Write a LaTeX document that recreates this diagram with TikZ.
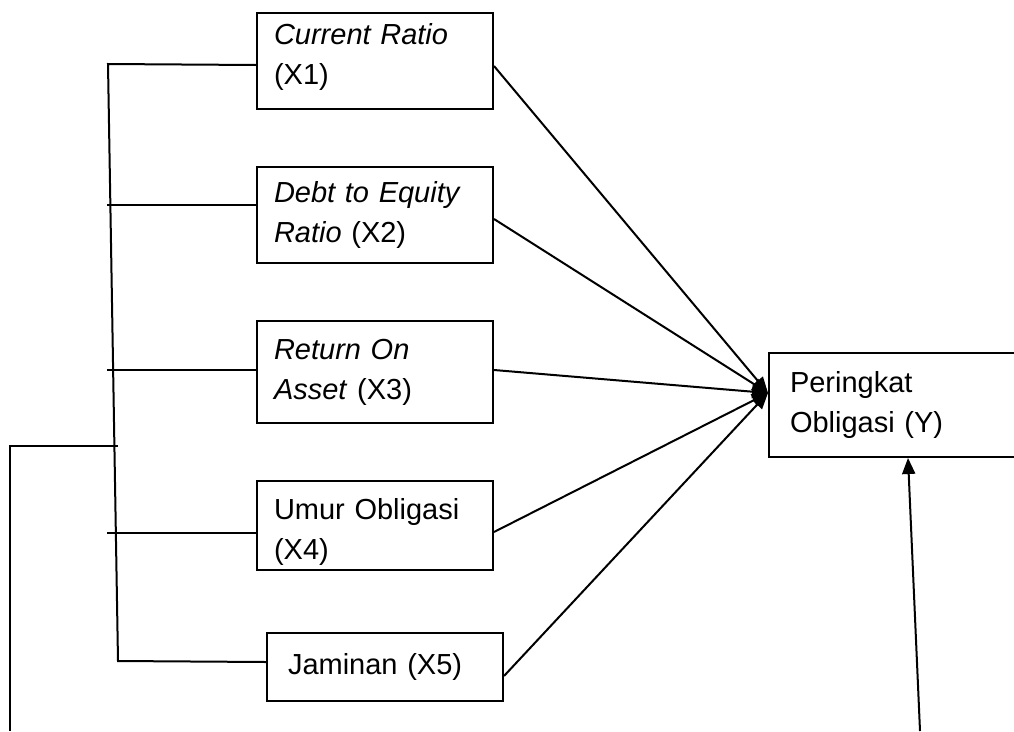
\documentclass[tikz,border=0pt]{standalone}
\usepackage{fontspec}
\setmainfont{Liberation Sans}
\usetikzlibrary{arrows.meta}

\begin{document}
\begin{tikzpicture}[x=1pt,y=-1pt,line width=2pt,
font=\fontsize{29}{40}\selectfont,
kasten/.style={draw, anchor=north west, align=left, inner ysep=2pt,
  inner xsep=17pt, text width=202pt},
breitkasten/.style={kasten, inner xsep=21pt},
pfeil/.style={-{Triangle[length=16pt,width=13pt]}},
]
\useasboundingbox (0,0) rectangle (1014,731);

% die Variablen
\node[kasten, minimum height=96pt, text depth=55pt] (X1) at (256,12) {\textit{Current Ratio}\\(X1)};
\node[kasten, minimum height=96pt] (X2) at (256,166) {\textit{Debt to Equity}\\\textit{Ratio} (X2)};
\node[kasten, minimum height=102pt] (X3) at (256,320) {\textit{Return On}\\\textit{Asset} (X3)};
\node[kasten, minimum height=89pt, text height=33pt] (X4) at (256,480) {Umur Obligasi\\(X4)};
\node[breitkasten, minimum height=68pt, text width=194pt] (X5) at (266,632) {Jaminan (X5)};

\node[breitkasten, minimum height=104pt, text width=218pt] (Y) at (768,352) {Peringkat\\Obligasi (Y)};

% Klammer links
\coordinate (A) at (108,64);
\coordinate (B) at (118,661);
\coordinate (C) at (118,446);
\coordinate (D) at (10,731);
\coordinate (E) at (920,731);
\coordinate (Z) at ([yshift=12pt]Y.west);

\draw ([yshift=-4pt]X1.west) -- (A) -- (B) -- ([yshift=5pt]X5.west);
\draw ([yshift=10pt]X2.west) -- ++(-149,0);
\draw ([yshift=2pt]X3.west) -- ++(-149,0);
\draw ([yshift=-7.5pt]X4.west) -- ++(-149,0);
\draw (C) -| (D);

% Pfeile nach Y
\draw[pfeil] ([yshift=-5pt]X1.east) -- (Z);
\draw[pfeil] ([yshift=-4pt]X2.east) -- (Z);
\draw[pfeil] ([yshift=2pt]X3.east) -- (Z);
\draw[pfeil] ([yshift=-6.5pt]X4.east) -- (Z);
\draw[pfeil] ([yshift=-9pt]X5.east) -- (Z);

\draw[pfeil] (E) -- ([xshift=140pt]Y.south west);

\end{tikzpicture}
\end{document}
